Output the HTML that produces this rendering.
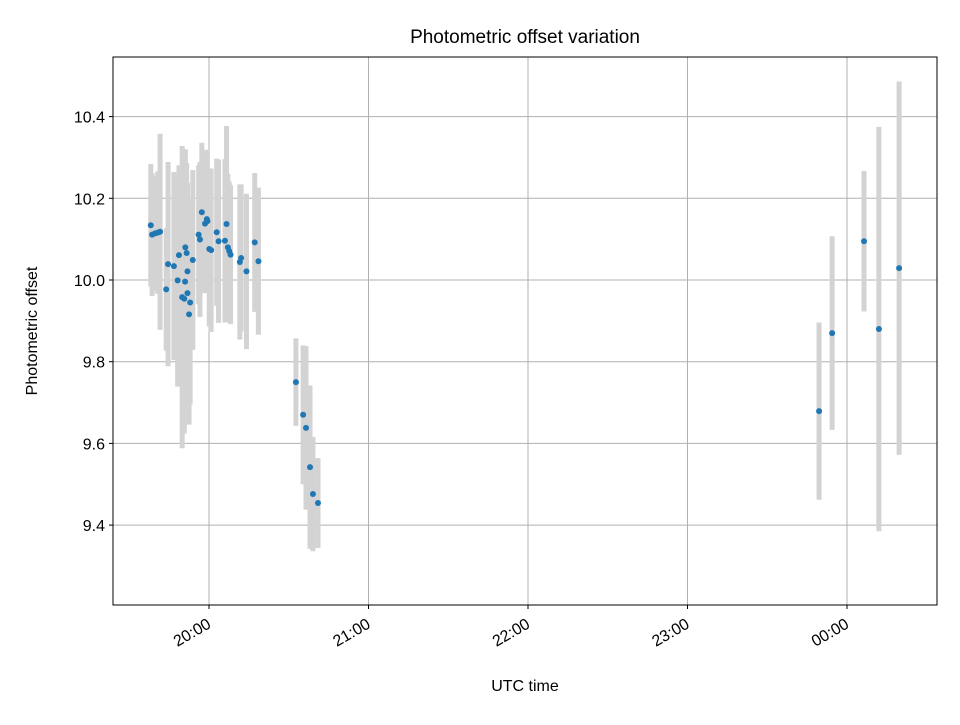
<!DOCTYPE html>
<html><head><meta charset="utf-8"><style>body{margin:0;background:#fff}svg{font-family:"Liberation Sans","DejaVu Sans",sans-serif}</style></head>
<body>
<svg id="chart" width="960" height="720" xmlns="http://www.w3.org/2000/svg">
<rect width="960" height="720" fill="#fff"/>
<g id="grid"></g><g id="bars"></g><g id="pts"></g><g id="axes"></g>
</svg>
<script>
// minutes since 19:00
const times=[38.1,38.6,39.7,40.7,41.6,43.9,44.6,46.8,48.2,48.7,49.9,50.7,51.0,51.1,51.6,51.9,51.9,52.5,52.9,53.9,56.1,56.6,57.3,58.5,59.2,59.4,60.1,60.8,62.9,63.6,66.0,66.6,67.1,67.6,68.1,71.6,72.1,74.1,77.2,78.6,92.7,95.4,96.5,98.0,99.1,101.0,289.5,294.4,306.4,312.0,319.6];
const offsets=[10.134,10.111,10.114,10.116,10.118,9.977,10.039,10.034,9.999,10.061,9.958,9.954,9.996,10.080,10.066,10.021,9.968,9.916,9.945,10.049,10.111,10.099,10.166,10.138,10.149,10.144,10.076,10.073,10.117,10.095,10.096,10.137,10.080,10.071,10.062,10.044,10.054,10.021,10.092,10.046,9.750,9.670,9.638,9.542,9.476,9.454,9.679,9.870,10.095,9.880,10.029];
const errors=[0.15,0.15,0.14,0.15,0.24,0.15,0.25,0.23,0.26,0.22,0.37,0.33,0.30,0.24,0.22,0.21,0.27,0.27,0.25,0.22,0.17,0.19,0.17,0.17,0.17,0.17,0.19,0.20,0.18,0.20,0.20,0.24,0.18,0.17,0.17,0.19,0.18,0.19,0.17,0.18,0.107,0.17,0.20,0.20,0.14,0.11,0.217,0.237,0.172,0.495,0.457];
const xTicks=[60,120,180,240,300];
const xTickLabels=["20:00","21:00","22:00","23:00","00:00"];
const yTicks=[9.4,9.6,9.8,10.0,10.2,10.4];
const yTickLabels=["9.4","9.6","9.8","10.0","10.2","10.4"];
const L=113,R=937,T=57,B=605;
const xs=m=>209+(m-60)*159.5/60;
const ys=v=>280-(v-10)*408.5;
const NS="http://www.w3.org/2000/svg";
function mk(p,t,a){const e=document.createElementNS(NS,t);for(const k in a)e.setAttribute(k,a[k]);p.appendChild(e);return e;}
const grid=document.getElementById('grid'),bars=document.getElementById('bars'),pts=document.getElementById('pts'),axes=document.getElementById('axes');
xTicks.forEach((t,i)=>{const x=xs(t);
 let g=mk(grid,'line',{x1:x,x2:x,y1:T,y2:B,stroke:'#b0b0b0','stroke-width':1});
 
 mk(axes,'line',{x1:x,x2:x,y1:B,y2:B+4,stroke:'#000'});
 const ax=x+3,ay=B+22;
 let tx=mk(axes,'text',{x:ax,y:ay,'font-size':16,'text-anchor':'end',transform:`rotate(-30 ${ax} ${ay})`});
 tx.textContent=xTickLabels[i];});
yTicks.forEach((t,i)=>{const y=ys(t);
 let g=mk(grid,'line',{x1:L,x2:R,y1:y,y2:y,stroke:'#b0b0b0','stroke-width':1});
 
 mk(axes,'line',{x1:L-4,x2:L,y1:y,y2:y,stroke:'#000'});
 let tx=mk(axes,'text',{x:L-8,y:y+6,'font-size':16,'text-anchor':'end'});
 tx.textContent=yTickLabels[i];});
times.forEach((t,i)=>{const x=xs(t);
 let b=mk(bars,'line',{x1:x,x2:x,y1:ys(offsets[i]+errors[i]),y2:ys(offsets[i]-errors[i]),stroke:'#d3d3d3','stroke-width':5});
 
 let c=mk(pts,'circle',{cx:x,cy:ys(offsets[i]),r:3,fill:'#1f77b4'});
 });
let fr=mk(axes,'rect',{x:L,y:T,width:R-L,height:B-T,fill:'none',stroke:'#000','stroke-width':1});

let ti=mk(axes,'text',{x:525,y:43,'font-size':19,'text-anchor':'middle'});ti.textContent='Photometric offset variation';

let xl=mk(axes,'text',{x:525,y:691,'font-size':16,'text-anchor':'middle'});xl.textContent='UTC time';

let yl=mk(axes,'text',{x:37,y:331,'font-size':16,'text-anchor':'middle',transform:'rotate(-90 37 331)'});yl.textContent='Photometric offset';

</script>
</body></html>
